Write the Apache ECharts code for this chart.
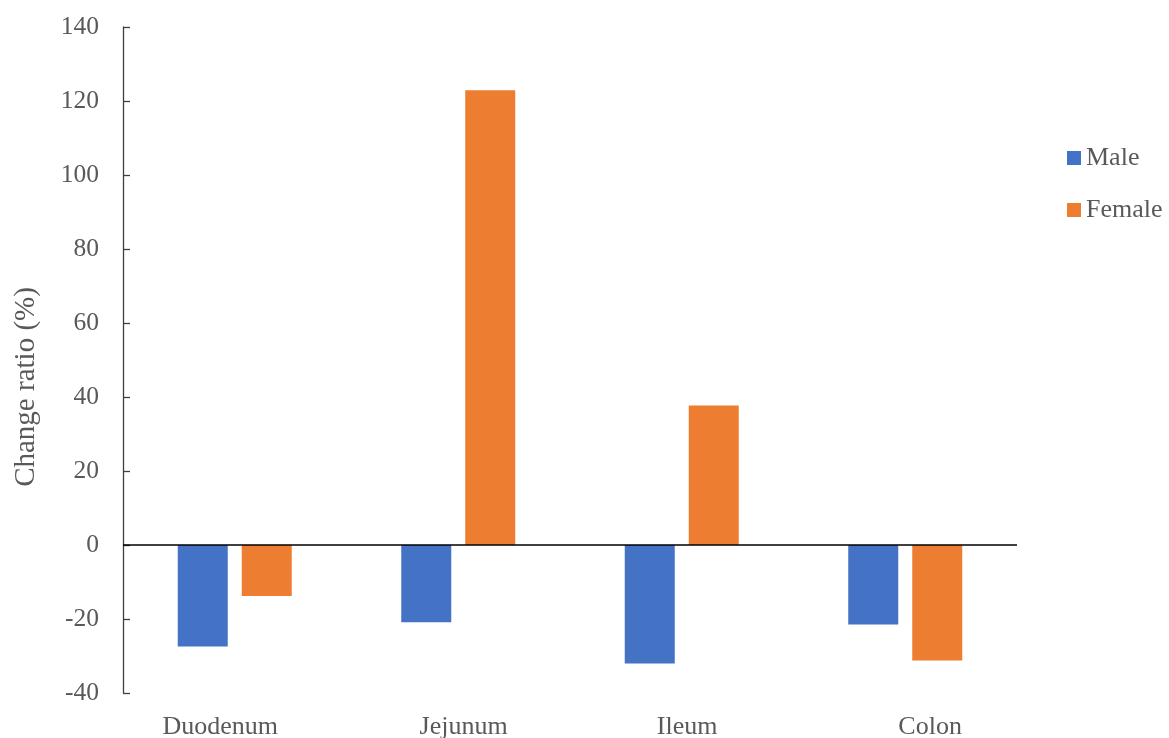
<!DOCTYPE html>
<html>
<head>
<meta charset="utf-8">
<script src="https://cdn.jsdelivr.net/npm/echarts@6/dist/echarts.min.js"></script>
<style>
  html, body { margin: 0; padding: 0; background: #ffffff; }
  #chart { width: 1169px; height: 738px; }
</style>
</head>
<body>
<div id="chart"></div>
<script>
// Intestinal segments and change ratio (%) by sex
const categories = ['Duodenum', 'Jejunum', 'Ileum', 'Colon'];
const maleValues = [-27.4, -20.9, -32.0, -21.5];
const femaleValues = [-13.8, 122.9, 37.7, -31.2];
const yTicks = { min: -40, max: 140, interval: 20 };

const textColor = '#595959';
const fontFamily = '"Liberation Serif", "Times New Roman", serif';

// horizontal nudge (px) of each category label relative to its slot centre
const labelShift = [-14.6, 5.4, 5.4, 24.9];
const labelRich = {};
labelShift.forEach(function (d, i) {
  labelRich['c' + i] = {
    color: textColor,
    fontSize: 26,
    fontFamily: fontFamily,
    padding: d >= 0 ? [0, 0, 0, 2 * d] : [0, -2 * d, 0, 0]
  };
});

const chart = echarts.init(document.getElementById('chart'), null, { renderer: 'canvas' });

chart.setOption({
  animation: false,
  backgroundColor: '#ffffff',
  textStyle: { fontFamily: fontFamily },
  grid: { left: 123, right: 152, top: 27, bottom: 45, outerBoundsMode: 'none', containLabel: false },
  legend: {
    orient: 'vertical',
    left: 1067,
    top: 145,
    padding: 0,
    itemWidth: 14,
    itemHeight: 14,
    itemGap: 26,
    icon: 'rect',
    textStyle: { color: textColor, fontSize: 26, fontFamily: fontFamily },
    data: ['Male', 'Female']
  },
  xAxis: {
    type: 'category',
    data: categories,
    position: 'bottom',
    axisLine: { show: false, onZero: false },
    axisTick: { show: false },
    splitLine: { show: false },
    axisLabel: {
      color: textColor,
      fontSize: 26,
      fontFamily: fontFamily,
      margin: 21,
      formatter: function (value, index) { return '{c' + index + '|' + value + '}'; },
      rich: labelRich
    }
  },
  yAxis: {
    type: 'value',
    min: yTicks.min,
    max: yTicks.max,
    interval: yTicks.interval,
    name: 'Change ratio (%)',
    nameLocation: 'middle',
    nameGap: 82,
    nameTextStyle: { color: textColor, fontSize: 29, fontFamily: fontFamily, padding: [0, 0, 0, -54] },
    axisLine: { show: true, lineStyle: { color: '#404040', width: 1.3 } },
    axisTick: { show: true, inside: true, length: 7, lineStyle: { color: '#404040', width: 1.3 } },
    splitLine: { show: false },
    axisLabel: { color: textColor, fontSize: 25.5, fontFamily: fontFamily, margin: 24 }
  },
  series: [
    {
      name: 'Male',
      type: 'bar',
      data: maleValues,
      barWidth: 50,
      barGap: '28%',
      itemStyle: { color: '#4472C4' },
      markLine: {
        silent: true,
        symbol: 'none',
        label: { show: false },
        lineStyle: { color: '#000000', width: 1.6, type: 'solid' },
        data: [{ yAxis: 0 }]
      }
    },
    {
      name: 'Female',
      type: 'bar',
      data: femaleValues,
      barWidth: 50,
      barGap: '28%',
      itemStyle: { color: '#ED7D31' }
    }
  ]
});
</script>
</body>
</html>
